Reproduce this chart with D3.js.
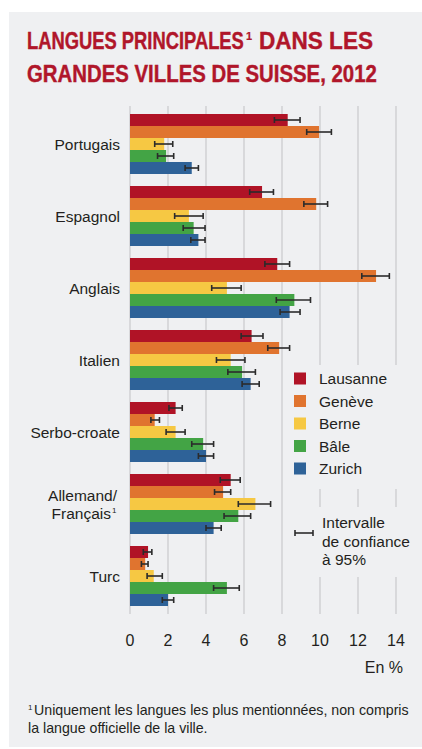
<!DOCTYPE html>
<html>
<head>
<meta charset="utf-8">
<script src="https://cdn.jsdelivr.net/npm/d3@7"></script>
<style>
  body { margin: 0; background: #fff; }
  text { font-family: "Liberation Sans", Arial, sans-serif; fill: #231f20; }
</style>
</head>
<body>
<div id="chart"></div>
<script>
const languages = ["Portugais", "Espagnol", "Anglais", "Italien", "Serbo-croate", "Allemand/Français", "Turc"];
const cities = ["Lausanne", "Genève", "Berne", "Bâle", "Zurich"];
const colors = ["#b01326", "#e0742f", "#f6c843", "#43a445", "#2e6298"];

// one row per language, one value per city (in %)
const values = [
  [8.3, 9.95, 1.8, 1.9, 3.25],
  [6.95, 9.8, 3.1, 3.35, 3.6],
  [7.75, 12.95, 5.1, 8.65, 8.4],
  [6.4, 7.85, 5.3, 5.9, 6.35],
  [2.4, 1.3, 2.4, 3.85, 4.0],
  [5.3, 4.9, 6.6, 5.7, 4.4],
  [0.95, 0.8, 1.25, 5.1, 2.0]
];
const errLow = [
  [7.6, 9.3, 1.3, 1.45, 2.9],
  [6.3, 9.15, 2.35, 2.8, 3.2],
  [7.1, 12.2, 4.3, 7.7, 7.9],
  [5.85, 7.25, 4.55, 5.15, 5.9],
  [2.05, 1.1, 1.9, 3.25, 3.6],
  [4.75, 4.45, 5.7, 4.95, 4.0],
  [0.7, 0.6, 0.9, 4.4, 1.7]
];
const errHigh = [
  [8.95, 10.6, 2.25, 2.3, 3.6],
  [7.55, 10.4, 3.85, 3.95, 3.95],
  [8.4, 13.65, 5.85, 9.5, 8.95],
  [7.0, 8.4, 6.05, 6.6, 6.8],
  [2.75, 1.55, 2.9, 4.4, 4.4],
  [5.8, 5.3, 7.4, 6.35, 4.8],
  [1.15, 0.95, 1.7, 5.75, 2.3]
];
const xTicks = [0, 2, 4, 6, 8, 10, 12, 14];

const width = 422, height = 749;
const bg = "#eff0f2";
const red = "#b0162a";

const svg = d3.select("#chart").append("svg")
  .attr("width", width).attr("height", height);

// panel
svg.append("rect").attr("x", 9).attr("y", 12).attr("width", width - 9).attr("height", 735).attr("fill", bg);

// title: squeeze each piece horizontally to look condensed
const title = svg.append("g")
  .style("font-weight", "bold").style("font-size", "23px")
  .attr("stroke", red).attr("stroke-width", 0.4);
const squeeze = (str, x0, y0, w) => {
  const t = title.append("text").style("fill", red).text(str);
  const sx = w / t.node().getComputedTextLength();
  t.attr("transform", `translate(${x0},${y0}) scale(${sx},1)`);
};
squeeze("LANGUES PRINCIPALES", 27, 49, 217);
squeeze("DANS LES", 259, 49, 114);
squeeze("GRANDES VILLES DE SUISSE, 2012", 27, 82, 350);
title.append("text").attr("x", 246).attr("y", 40).style("fill", red)
  .style("font-size", "11px").attr("stroke-width", 0.2).text("1");

const x = d3.scaleLinear().domain([0, 14]).range([130, 396]);
const y = d3.scaleBand().domain(languages).range([108, 612]).paddingInner(1 / 6).paddingOuter(1 / 12);
const yc = d3.scaleBand().domain(cities).range([0, y.bandwidth()]);

// gridlines
svg.append("g").selectAll("line").data(xTicks).join("line")
  .attr("x1", d => x(d)).attr("x2", d => x(d))
  .attr("y1", 106).attr("y2", 614)
  .attr("stroke", "#d2d3d5").attr("stroke-width", 1.6);

// legend background covers the grid
svg.append("rect").attr("x", 287).attr("y", 365).attr("width", 135).attr("height", 124).attr("fill", bg);
svg.append("rect").attr("x", 287).attr("y", 507).attr("width", 135).attr("height", 70).attr("fill", bg);

// bars
const groups = svg.append("g").selectAll("g").data(languages).join("g")
  .attr("transform", d => `translate(0,${y(d)})`);

groups.selectAll("rect").data((d, i) => cities.map((c, j) => ({ c, j, v: values[i][j] })))
  .join("rect")
  .attr("x", x(0))
  .attr("y", d => yc(d.c))
  .attr("width", d => x(d.v) - x(0))
  .attr("height", yc.bandwidth())
  .attr("fill", d => colors[d.j]);

// error bars
const errs = groups.selectAll("g.err").data((d, i) => cities.map((c, j) => ({ c, lo: errLow[i][j], hi: errHigh[i][j] })))
  .join("g").attr("class", "err")
  .attr("transform", d => `translate(0,${yc(d.c) + yc.bandwidth() / 2})`)
  .attr("stroke", "#2b2b2b").attr("stroke-width", 1.6);
errs.append("line").attr("x1", d => x(d.lo)).attr("x2", d => x(d.hi)).attr("y1", 0).attr("y2", 0);
errs.append("line").attr("x1", d => x(d.lo)).attr("x2", d => x(d.lo)).attr("y1", -3).attr("y2", 3);
errs.append("line").attr("x1", d => x(d.hi)).attr("x2", d => x(d.hi)).attr("y1", -3).attr("y2", 3);

// category labels
languages.forEach(lang => {
  const cy = y(lang) + y.bandwidth() / 2;
  if (lang === "Allemand/Français") {
    svg.append("text").attr("x", 117).attr("y", cy - 3).attr("text-anchor", "end")
      .style("font-size", "15.5px").text("Allemand/");
    svg.append("text").attr("x", 111).attr("y", cy + 15).attr("text-anchor", "end")
      .style("font-size", "15.5px").text("Français");
    svg.append("text").attr("x", 112).attr("y", cy + 9).style("font-size", "8px").text("1");
  } else {
    svg.append("text").attr("x", 120).attr("y", cy + 5.5).attr("text-anchor", "end")
      .style("font-size", "15.5px").text(lang);
  }
});

// x axis labels
svg.append("g").selectAll("text").data(xTicks).join("text")
  .attr("x", d => x(d)).attr("y", 646).attr("text-anchor", "middle")
  .style("font-size", "16px").text(d => d);
svg.append("text").attr("x", 403).attr("y", 673).attr("text-anchor", "end")
  .style("font-size", "16px").text("En %");

// legend
const leg = svg.append("g").selectAll("g").data(cities).join("g")
  .attr("transform", (d, i) => `translate(294,${378.5 + i * 22.5})`);
leg.append("rect").attr("x", 0).attr("y", -6).attr("width", 12).attr("height", 12)
  .attr("fill", (d, i) => colors[i]);
leg.append("text").attr("x", 25).attr("y", 5.5).style("font-size", "15.5px").text(d => d);

const ci = svg.append("g").attr("stroke", "#2b2b2b").attr("stroke-width", 1.6);
ci.append("line").attr("x1", 295).attr("x2", 313).attr("y1", 533).attr("y2", 533);
ci.append("line").attr("x1", 295).attr("x2", 295).attr("y1", 530).attr("y2", 536);
ci.append("line").attr("x1", 313).attr("x2", 313).attr("y1", 530).attr("y2", 536);
["Intervalle", "de confiance", "à 95%"].forEach((s, i) => {
  svg.append("text").attr("x", 322).attr("y", 528 + i * 18.5).style("font-size", "15.5px").text(s);
});

// footnote
svg.append("text").attr("x", 28).attr("y", 710).style("font-size", "8px").text("1");
svg.append("text").attr("x", 34).attr("y", 715).style("font-size", "14.2px")
  .text("Uniquement les langues les plus mentionnées, non compris");
svg.append("text").attr("x", 28).attr("y", 733).style("font-size", "14.2px")
  .text("la langue officielle de la ville.");
</script>
</body>
</html>
